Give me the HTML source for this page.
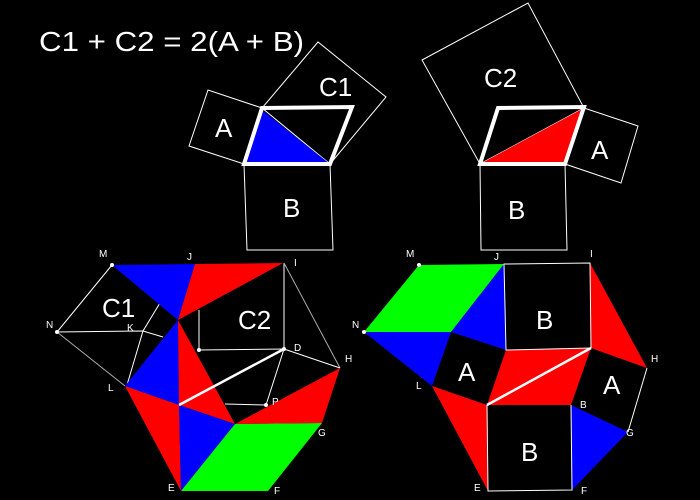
<!DOCTYPE html>
<html><head><style>html,body{margin:0;background:#000;}svg{display:block}</style></head><body>
<svg width="700" height="500" viewBox="0 0 700 500" font-family="Liberation Sans, sans-serif" fill="none">
<rect width="700" height="500" fill="#000"/>
<text x="39" y="51" font-size="28" fill="#fff" textLength="265" lengthAdjust="spacingAndGlyphs">C1 + C2 = 2(A + B)</text>
<!-- top left -->
<g stroke="#fff" stroke-width="1">
<polygon points="262,108 244,164 189,146 208,90"/>
<polygon points="262,108 330,164 386,97 318,42"/>
<polygon points="244,164 330,164 333,250 247,250"/>
</g>
<polygon points="262,110 244,164 330,164" fill="#00f"/>
<polygon points="262,108 352,107 330,164 244,164" stroke="#fff" stroke-width="4"/>
<g fill="#fff" font-size="26"><text x="215" y="137">A</text><text x="319" y="96">C1</text><text x="283" y="217">B</text></g>
<!-- top right -->
<g stroke="#fff" stroke-width="1">
<polygon points="480,164 584,108 528,3 422,60"/>
<polygon points="584,108 565,164 621,183 638,126"/>
<polygon points="480,164 565,164 567,250 481,250"/>
</g>
<polygon points="480,164 584,108 565,164" fill="#f00"/>
<polygon points="480,164 565,164 584,107 498,108" stroke="#fff" stroke-width="4"/>
<g fill="#fff" font-size="26"><text x="484" y="87">C2</text><text x="591" y="159">A</text><text x="508" y="219">B</text></g>
<!-- bottom left -->
<g stroke="#fff" stroke-width="1">
<line x1="112" y1="265" x2="57" y2="332"/>
<line x1="57" y1="332" x2="125" y2="386" stroke="#aaa"/>
<polyline points="57,332 143,331 163,337"/>
<polyline points="163,298 143,331 127,385"/>
<polyline points="199,310 199,350 284,349"/>
<line x1="284" y1="263" x2="284" y2="349"/>
<line x1="284" y1="263" x2="340" y2="368" stroke="#aaa"/>
<line x1="284" y1="349" x2="340" y2="368"/>
<line x1="284" y1="349" x2="266" y2="405"/>
<line x1="225" y1="404" x2="266" y2="405"/>
</g>
<polygon points="112,265 195,264 178,320" fill="#00f"/>
<polygon points="195,264 283,263 178,320" fill="#f00"/>
<polygon points="125,386 178,320 179,405" fill="#00f"/>
<polygon points="178,320 179,405 235,424" fill="#f00"/>
<polygon points="125,386 179,405 181,491" fill="#f00"/>
<polygon points="179,405 235,424 181,491" fill="#00f"/>
<polygon points="181,491 235,424 322,423 268,491" fill="#0f0"/>
<polygon points="235,424 322,423 340,368" fill="#f00"/>
<line x1="179" y1="405" x2="284" y2="349" stroke="#fff" stroke-width="2.5"/>
<g fill="#fff"><circle cx="112" cy="265" r="2"/><circle cx="57" cy="332" r="2"/><circle cx="199" cy="350" r="2"/><circle cx="284" cy="349" r="2"/><circle cx="266" cy="405" r="2"/></g>
<g fill="#fff" font-size="26"><text x="102" y="317">C1</text><text x="238" y="329">C2</text></g>
<g fill="#fff" font-size="10"><text x="99" y="257">M</text><text x="187" y="260">J</text><text x="294" y="266">I</text><text x="46" y="328">N</text><text x="127" y="331">K</text><text x="108" y="391">L</text><text x="294" y="351">D</text><text x="345" y="362">H</text><text x="272" y="405">P</text><text x="318" y="436">G</text><text x="168" y="491">E</text><text x="274" y="494">F</text></g>
<!-- bottom right -->
<polygon points="419,265 504,264 451,332 364,332" fill="#0f0"/>
<polygon points="504,264 506,350 451,332" fill="#00f"/>
<polygon points="364,332 451,332 432,386" fill="#00f"/>
<polygon points="506,350 591,348 571,405 487,405" fill="#f00"/>
<polygon points="590,263 647,368 591,348" fill="#f00"/>
<polygon points="571,405 628,432 572,490" fill="#00f"/>
<polygon points="432,386 487,405 488,491" fill="#f00"/>
<g stroke="#fff" stroke-width="1">
<polygon points="504,264 590,263 591,348 506,350"/>
<polyline points="487,405 488,491 572,490 571,405"/>
<line x1="647" y1="368" x2="628" y2="432"/>
</g>
<line x1="487" y1="405" x2="591" y2="348" stroke="#fff" stroke-width="2.5"/>
<g fill="#fff"><circle cx="419" cy="265" r="2"/><circle cx="364" cy="332" r="2"/></g>
<g fill="#fff" font-size="26"><text x="536" y="329">B</text><text x="458" y="381">A</text><text x="603" y="394">A</text><text x="521" y="461">B</text></g>
<g fill="#fff" font-size="10"><text x="406" y="257">M</text><text x="494" y="260">J</text><text x="590" y="257">I</text><text x="352" y="328">N</text><text x="416" y="389">L</text><text x="651" y="362">H</text><text x="580" y="408">B</text><text x="626" y="436">G</text><text x="474" y="491">E</text><text x="581" y="494">F</text></g>
</svg>
</body></html>
